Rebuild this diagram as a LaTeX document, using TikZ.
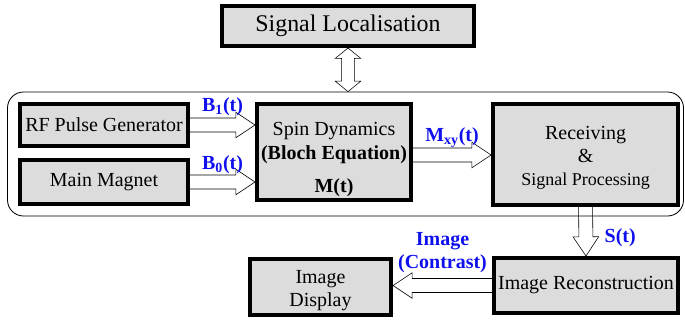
\documentclass[tikz,border=0pt]{standalone}
\usepackage{fontspec}
\setmainfont{Liberation Serif}
\usepackage{tikz}
\usetikzlibrary{calc,positioning}
\definecolor{boxgray}{HTML}{DCDCDC}
\definecolor{sigblue}{HTML}{1010EE}

\begin{document}
\begin{tikzpicture}[
    box/.style={rectangle, draw, line width=1mm, fill=boxgray, align=center, inner sep=0pt, font=\fontsize{14.2}{16.5}\selectfont},
    lbl/.style={font=\fontsize{14.2}{16}\selectfont\bfseries, text=sigblue, align=center, inner sep=0pt},
    frame/.style={draw, line width=0.6pt, rounded corners=4mm, minimum width=16.9cm, minimum height=3.1cm},
    % open block arrow from start to target
    hollow/.style={to path={
        let \p1=(\tikztostart), \p2=(\tikztotarget),
            \n1={veclen(\x2-\x1,\y2-\y1)}, \n2={atan2(\y2-\y1,\x2-\x1)} in
        ($(\p1)+(\n2+90:1.75mm)$) -- ($(\p1)+(\n2:{\n1-4.8mm})+(\n2+90:1.75mm)$)
        -- ($(\p1)+(\n2:{\n1-4.8mm})+(\n2+90:3.2mm)$) -- (\p2)
        -- ($(\p1)+(\n2:{\n1-4.8mm})+(\n2-90:3.2mm)$)
        -- ($(\p1)+(\n2:{\n1-4.8mm})+(\n2-90:1.75mm)$) -- ($(\p1)+(\n2-90:1.75mm)$)}},
    % same, with a head at both ends
    twoway/.style={to path={
        let \p1=(\tikztostart), \p2=(\tikztotarget),
            \n1={veclen(\x2-\x1,\y2-\y1)}, \n2={atan2(\y2-\y1,\x2-\x1)} in
        (\p1) -- ($(\p1)+(\n2:2.6mm)+(\n2+90:3.2mm)$) -- ($(\p1)+(\n2:2.6mm)+(\n2+90:1.6mm)$)
        -- ($(\p1)+(\n2:{\n1-2.6mm})+(\n2+90:1.6mm)$) -- ($(\p1)+(\n2:{\n1-2.6mm})+(\n2+90:3.2mm)$)
        -- (\p2)
        -- ($(\p1)+(\n2:{\n1-2.6mm})+(\n2-90:3.2mm)$) -- ($(\p1)+(\n2:{\n1-2.6mm})+(\n2-90:1.6mm)$)
        -- ($(\p1)+(\n2:2.6mm)+(\n2-90:1.6mm)$) -- ($(\p1)+(\n2:2.6mm)+(\n2-90:3.2mm)$) -- cycle}}
]
    \useasboundingbox (0,0) rectangle (17.125,8.05);

    % Nodes
    \node[frame] (frame) at (8.6375,4.2) {};
    \node[box, minimum width=6.3cm, minimum height=1cm, font=\fontsize{17}{20}\selectfont] (sigloc) at (8.7,7.4) {Signal Localisation};
    \node[box, minimum width=4.2cm, minimum height=1.05cm] (rf) at (2.6,4.925) {RF Pulse Generator};
    \node[box, minimum width=4.2cm, minimum height=1.1cm] (magnet) at (2.6,3.5) {Main Magnet};
    \node[box, minimum width=3.85cm, minimum height=2.4cm] (spin) at (8.35,4.25) {\rule{0pt}{20pt}Spin Dynamics\\\textbf{(Bloch Equation)}\\[7pt]\textbf{M(t)}};
    \node[box, minimum width=4.625cm, minimum height=2.525cm] (recv) at (14.64,4.19) {\rule{0pt}{14pt}Receiving\\\&\\{\fontsize{12.8}{15}\selectfont Signal Processing}};
    \node[box, minimum width=4.6cm, minimum height=1.375cm] (recon) at (14.65,0.9125) {Image Reconstruction};
    \node[box, minimum width=3.525cm, minimum height=1.4cm] (display) at (8.0125,0.875) {\rule{0pt}{14pt}Image\\Display};
    \coordinate (mxy) at ([yshift=-0.75mm]spin.east);

    % Arrows
    \draw[hollow] (rf.east) to (rf.east -| spin.west);
    \draw[hollow] (magnet.east) to (magnet.east -| spin.west);
    \draw[hollow] (mxy) to (mxy -| recv.west);
    \draw[hollow] (recv.south) to (recon.north);
    \draw[hollow] (recon.west) to (recon.west -| display.east);
    \draw[twoway] (sigloc.south) to (sigloc.south |- frame.north);

    % Signal labels
    \path (rf.east) -- node[lbl, yshift=4.6mm] {B\textsubscript{1}(t)} (rf.east -| spin.west);
    \path (magnet.east) -- node[lbl, yshift=4.3mm] {B\textsubscript{0}(t)} (magnet.east -| spin.west);
    \path (mxy) -- node[lbl, yshift=4.4mm] {M\textsubscript{xy}(t)} (mxy -| recv.west);
    \path (recv.south) -- node[lbl, xshift=8.6mm, yshift=-1.5mm] {S(t)} (recon.north);
    \path (recon.west) -- node[lbl, yshift=8.2mm] {Image\\(Contrast)} (recon.west -| display.east);
\end{tikzpicture}
\end{document}
